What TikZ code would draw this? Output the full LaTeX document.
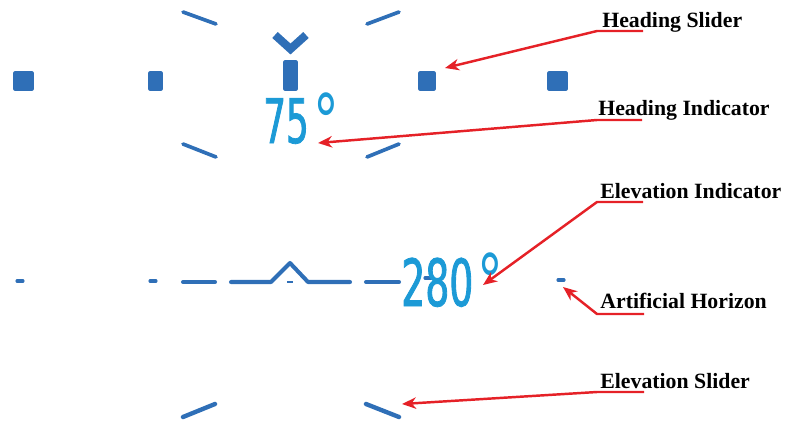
\documentclass[tikz,border=0pt]{standalone}
\usepackage{fontspec}
\setmainfont{Liberation Serif}
\newfontfamily\hudfont[FakeStretch=0.58, FakeBold=1.3]{DejaVu Sans}
\newfontfamily\degfont[FakeStretch=0.7]{DejaVu Sans}
\usetikzlibrary{arrows.meta}
\definecolor{hudblue}{HTML}{2F6FB7}
\definecolor{hudtext}{HTML}{1C9AD6}
\definecolor{callred}{HTML}{E52127}
\begin{document}
\begin{tikzpicture}[x=0.02cm,y=-0.02cm,
  tickline/.style={draw=hudblue, line width=2.1pt, line cap=round},
  lowtick/.style={draw=hudblue, line width=2.5pt, line cap=round},
  horizon/.style={draw=hudblue, line width=2.3pt, line cap=round, line join=round},
  smalldash/.style={draw=hudblue, line width=1.8pt, line cap=round},
  marker/.style={fill=hudblue, rounded corners=1.2pt, inner sep=0pt, minimum height=11.3pt},
  hudnum/.style={text=hudtext, inner sep=0pt, font=\hudfont\fontsize{35}{40}\selectfont},
  lbl/.style={inner sep=0pt, font=\fontsize{12.4}{14}\selectfont\bfseries},
  callout/.style={draw=callred, line width=1.4pt, -{Stealth[length=8pt,width=6.5pt,inset=2.5pt]}}
]
\useasboundingbox (0,0) rectangle (787,423);

% heading ticks
\draw[tickline] (183,12) -- (216,24);
\draw[tickline] (367,24) -- (399,12);
\draw[tickline] (183,144) -- (216,157);
\draw[tickline] (367,157) -- (399,144);

% heading chevron and bar
\draw[draw=hudblue, line width=4.6pt, line join=miter] (275,35) -- (290.5,49) -- (306,35);
\node[marker, minimum width=8.5pt, minimum height=17.6pt] (bar) at (290.5,75.5) {};

% heading slider markers
\node[marker, minimum width=11.9pt] (sq1) at (23.5,81) {};
\node[marker, minimum width=8.5pt] (sq2) at (155.5,81) {};
\node[marker, minimum width=10.2pt] (sq3) at (427,81) {};
\node[marker, minimum width=11.9pt] (sq4) at (557.5,81) {};

% heading indicator
\node[hudnum, anchor=base west] (hdg) at (263,143) {75\kern0.08em{\degfont\fontsize{42}{42}\selectfont\raisebox{-0.06em}{°}}};

% artificial horizon
\draw[smalldash] (17,281) -- (23,281);
\draw[smalldash] (150,281) -- (156,281);
\draw[horizon] (183,282) -- (215,282);
\draw[horizon] (231,282) -- (271,282) -- (290,263) -- (308,282) -- (350,282);
\draw[draw=hudblue, line width=1.2pt] (287,282) -- (293,282);
\draw[horizon] (366,282) -- (399,282);
\draw[smalldash] (425,278) -- (432,278);
\draw[smalldash] (558,280) -- (564,280);

% elevation indicator
\node[hudnum, anchor=base west, font=\hudfont\fontsize{37}{42}\selectfont] (elv) at (401,306) {280\kern0.06em{\degfont\fontsize{42}{42}\selectfont\raisebox{-0.02em}{°}}};

% elevation slider
\draw[lowtick] (183,417) -- (215,404);
\draw[lowtick] (366,404) -- (399,417);

% labels
\node[lbl, anchor=base west] (lhs) at (602,27) {Heading Slider};
\node[lbl, anchor=base west] (lhi) at (598,115) {Heading Indicator};
\node[lbl, anchor=base west] (lei) at (600,198) {Elevation Indicator};
\node[lbl, anchor=base west] (lah) at (600,308) {Artificial Horizon};
\node[lbl, anchor=base west] (les) at (600,388) {Elevation Slider};

% callout anchor points
\coordinate (hsA) at (643,31);  \coordinate (hsB) at (597,31);  \coordinate (hsT) at (445,68);
\coordinate (hiA) at (642,120); \coordinate (hiB) at (597,120); \coordinate (hiT) at (318,143);
\coordinate (eiA) at (643,202); \coordinate (eiB) at (597,202); \coordinate (eiT) at (483,285);
\coordinate (ahA) at (644,314); \coordinate (ahB) at (597,314); \coordinate (ahT) at (563,287);
\coordinate (esA) at (644,392); \coordinate (esB) at (597,392); \coordinate (esT) at (402,404);

\draw[callout] (hsA) -- (hsB) -- (hsT);
\draw[callout] (hiA) -- (hiB) -- (hiT);
\draw[callout] (eiA) -- (eiB) -- (eiT);
\draw[callout] (ahA) -- (ahB) -- (ahT);
\draw[callout] (esA) -- (esB) -- (esT);
\end{tikzpicture}
\end{document}
